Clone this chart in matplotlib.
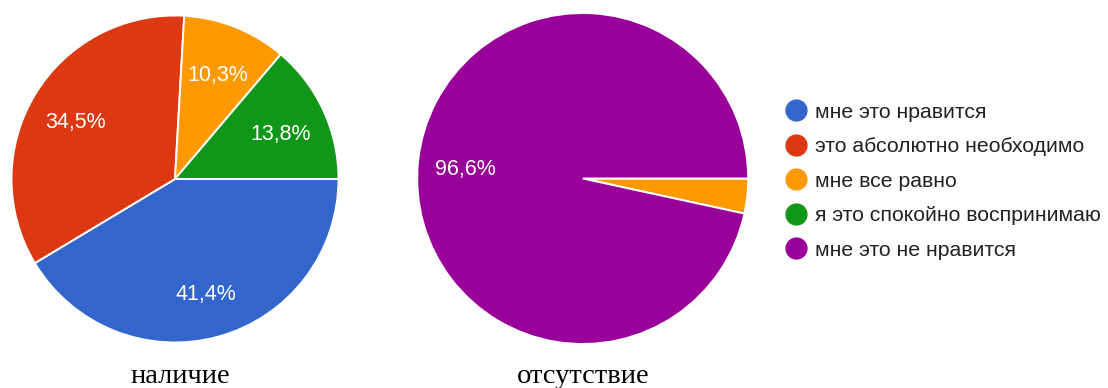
import matplotlib
matplotlib.use("Agg")
import matplotlib.pyplot as plt
from matplotlib.lines import Line2D

# Response categories and their colours
categories = [
    "мне это нравится",
    "это абсолютно необходимо",
    "мне все равно",
    "я это спокойно воспринимаю",
    "мне это не нравится",
]
colors = ["#3366cc", "#dc3912", "#ff9900", "#109618", "#990099"]

# Shares (%) for each category
presence_values = [41.4, 34.5, 10.3, 13.8, 0.0]
absence_values = [0.0, 0.0, 3.4, 0.0, 96.6]

titles = ["наличие", "отсутствие"]

W, H = 1108, 388
fig = plt.figure(figsize=(W / 100, H / 100), dpi=100)
fig.patch.set_facecolor("white")


def pie_axes(cx, cy, r):
    return fig.add_axes([(cx - r) / W, (H - cy - r) / H, 2 * r / W, 2 * r / H])


def fmt(p):
    return ("%.1f%%" % p).replace(".", ",") if p >= 5 else ""


def draw_pie(ax, values, r_px):
    vals = [v for v in values if v > 0]
    cols = [c for v, c in zip(values, colors) if v > 0]
    _, _, autotexts = ax.pie(
        vals, colors=cols, startangle=0, counterclock=False,
        autopct=fmt, pctdistance=0.71, radius=1.0,
        wedgeprops=dict(edgecolor="white", linewidth=1.4),
        textprops=dict(color="white", fontsize=15.5, family="Liberation Sans"),
    )
    # nudge percentage labels slightly downward
    for t in autotexts:
        x, y = t.get_position()
        t.set_position((x, y - 4 / r_px))
    ax.set_xlim(-1, 1)
    ax.set_ylim(-1, 1)
    ax.set_aspect("equal")
    ax.axis("off")


ax1 = pie_axes(175, 179, 163.5)
draw_pie(ax1, presence_values, 163.5)
ax2 = pie_axes(582.7, 178.5, 165.5)
draw_pie(ax2, absence_values, 165.5)

# Captions under each pie
fig.text(180 / W, 1 - 383 / H, titles[0], ha="center", va="baseline",
         family="Liberation Serif", fontsize=20.5, color="black")
fig.text(583 / W, 1 - 383 / H, titles[1], ha="center", va="baseline",
         family="Liberation Serif", fontsize=20.5, color="black")

# Legend: a coloured dot followed by the category name
row0, step = 110, 34.5
for i, (cat, col) in enumerate(zip(categories, colors)):
    yc = row0 + i * step
    fig.add_artist(Line2D([795.5 / W], [1 - yc / H], transform=fig.transFigure,
                          marker="o", linestyle="none", markersize=15,
                          markerfacecolor=col, markeredgecolor=col))
    fig.text(815 / W, 1 - (yc + 7.5) / H, cat, ha="left", va="baseline",
             family="Liberation Sans", fontsize=15.3, color="#222222")

fig.savefig("out.png", dpi=100, facecolor="white")
